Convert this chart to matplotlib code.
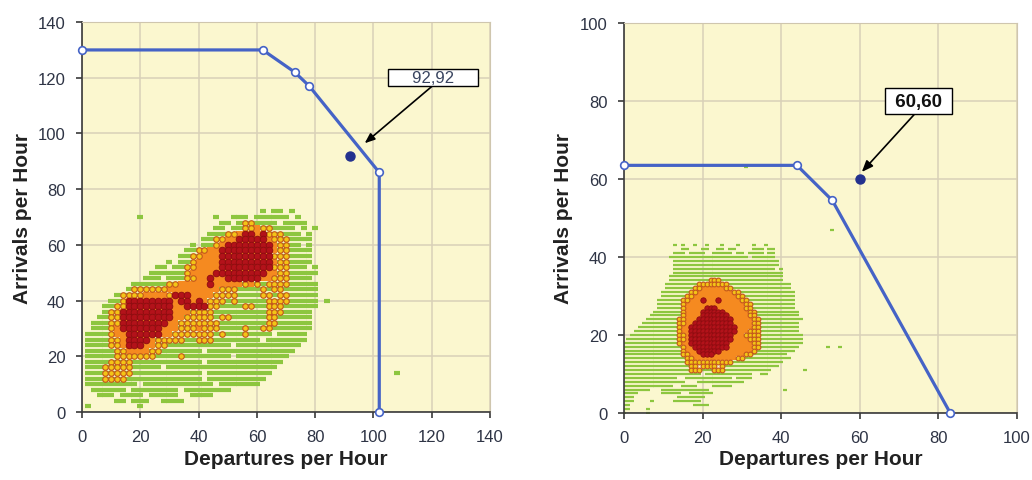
import matplotlib.pyplot as plt

plt.rcParams['font.family'] = ['Liberation Sans', 'DejaVu Sans']

# capacity envelopes (departures, arrivals) and the marked operating point
left_env_x = [0, 62, 73, 78, 102, 102]
left_env_y = [130, 130, 122, 117, 86, 0]
left_point = (92, 92)
left_label = '92,92'

right_env_x = [0, 44, 53, 83]
right_env_y = [63.5, 63.5, 54.5, 0]
right_point = (60, 60)
right_label = '60,60'

# observed hours, read off the picture on a regular grid
# '.' none, 'g' few, 'o' many, 'y' frequent (circle), 'r' most frequent
# left grid: 2 per cell, first row is arrivals 72, first column departures 0
left_rows = [
    '.' * 31 + 'g.gg.g',                                                          # 72
    '.' * 10 + 'g' + '.' * 12 + 'g..ggg.gggggg.g',                                # 70
    '.' * 24 + 'gg.g' + 'yy' + 'gggg.gggg',                                       # 68
    '.' * 23 + 'gg.gg' + 'yyoyy' + 'gggg.g',                                      # 66
    '.' * 22 + 'ggg' + 'yy' + 'o' + 'rror' + 'yyy' + 'ggg.g',                     # 64
    '.' * 21 + 'gg' + 'yy' + 'oo' + 'rrrrr' + 'oyyy' + 'gggg',                    # 62
    '.' * 19 + 'g.gg' + 'y' + 'o' + 'rrrrrrrr' + 'o' + 'yy' + 'gg.g',             # 60
    '.' * 18 + 'gg' + 'yy' + 'oo' + 'rrrrrrrrr' + 'o' + 'yy' + 'gggg',            # 58
    '.' * 17 + 'gg' + 'yy' + 'ooo' + 'rrrrrrrrr' + 'yyy' + 'gggg',                # 56
    '.' * 15 + 'g.gg' + 'y' + 'oooo' + 'rrrrrrrrr' + 'o' + 'yy' + 'gggg',         # 54
    '.' * 13 + 'gg.gg' + 'yy' + 'oooo' + 'rrrrrrrrr' + 'yyy' + 'ggg.g',           # 52
    '.' * 12 + 'gggggg' + 'y' + 'oooo' + 'rrrrrrrrr' + 'oo' + 'yy' + 'ggggg',     # 50
    '.' * 11 + 'ggg.ggg' + 'yy' + 'oo' + 'r' + 'oo' + 'rrrrrr' + 'oo' + 'yyy' + 'gggg.',
    '.' * 9 + 'gggggg' + 'yy' + 'ooooo' + 'r' + 'ooooo' + 'yoy' + 'g' + 'yyyy' + 'ggggg',
    '.' * 8 + 'g' + 'yyyyy' + 'yoooo' + 'ooooo' + 'yyy' + 'gggg' + 'ygyyg' + 'ggggg',
    '.' * 6 + 'g' + 'yyyy' + 'oooo' + 'y' + 'rrr' + 'oooo' + 'yyyy' + 'gggg' + 'yygyy' + 'ggggg',
    '.' * 5 + 'gg' + 'y' + 'rrrrrrrr' + 'orroro' + 'yyy' + 'g' + 'y' + 'ggggg' + 'yyyy' + 'ggggg',
    '.' * 4 + 'gg' + 'yy' + 'rrrrrrrr' + 'oo' + 'rrrr' + 'yy' + 'gggg' + 'yy' + 'gg' + 'yyy' + 'gggggg',
    '.' * 4 + 'g' + 'yy' + 'rrrrrrrrr' + 'ooo' + 'yyyy' + 'ggggggggg' + 'yyy' + 'ggggg',
    '.' * 3 + 'gg' + 'yy' + 'rrrrrrrrr' + 'oo' + 'yyyyy' + 'g' + 'yy' + 'gggggg' + 'yy' + 'gggggg',
    '.' * 2 + 'ggg' + 'yy' + 'rrrrrrrr' + 'oo' + 'yyyyyyy' + 'gggggggg' + 'yy' + 'gggggg',
    '.' * 2 + 'ggg' + 'y' + 'o' + 'rrrrrrr' + 'ooo' + 'yyyoyyy' + 'gggg' + 'y' + 'gg' + 'yy' + 'ggggggg',
    '.' + 'gggg' + 'y' + 'oo' + 'rrrrrr' + 'oo' + 'yyyyyyy' + 'g' + 'y' + 'ggg' + 'y' + 'gggg.ggggg',
    '.' + 'gggg' + 'yy' + 'o' + 'rrrr' + 'o' + 'yyyyy' + 'gg' + 'yyy' + 'gggggggg.ggggggg',
    '.' + 'gggg' + 'yy' + 'o' + 'rrr' + 'oo' + 'yy' + 'ggggggggggg.ggggggggggg',  # 24
    '.' + 'ggggg' + 'yy' + 'oooo' + 'yy' + 'ggggggg.ggggggggggggggg',             # 22
    '.' + 'ggggg' + 'yyyyyyy' + 'gggg' + 'y' + 'gggggggg.ggggggggg',              # 20
    '.' + 'gggg' + 'yyyy' + 'gggggggggggg.ggggggggggggg',                         # 18
    '.' + 'ggg' + 'yyyyy' + 'ggggg.ggggggggggggggggggg',                          # 16
    '.' + 'ggg' + 'yyyyy' + 'gggggggggggg.ggggggggggg',                           # 14
    '.' + 'ggg' + 'yyyy' + 'ggggggggggggg.gggggggggg',                            # 12
    '.' + 'ggggggggg.gggggggggggg.ggggggg',                                       # 10
    '..' + 'gggggg.gggggggg.gggggggg',                                            # 8
    '...' + 'ggg.gggg.ggggg..gggg',                                               # 6
    '.' * 6 + 'gg.ggg..gggg',                                                     # 4
    '.g........g',                                                                # 2
]
left_top = 72
left_step = 2
left_extra_x = [84, 80, 108]
left_extra_y = [40, 66, 14]

# right grid: 1 per cell, first row is arrivals 43
right_rows = [
    '.' * 13 + 'g.g..g..g...g...g...g..g',                                        # 43
    '.' * 15 + 'gg...gg..gg.gg....ggg.gg',
    '.' * 13 + 'ggg.gggg..ggggg.gg.gggg.gg',
    '.' * 12 + 'gggggggggggggggggggg.gggggg',                                     # 40
    '.' * 13 + 'g' * 27,
    '.' * 13 + 'g' * 27,
    '.' * 13 + 'g' * 26 + '.g',
    '.' * 13 + 'g' * 28,
    '.' * 12 + 'g' * 29,                                                          # 35
    '.' * 12 + 'g' * 10 + 'yyy' + 'g' * 16,
    '.' * 11 + 'g' * 8 + 'yyyyyyyy' + 'g' * 16,
    '.' * 11 + 'g' * 7 + 'yy' + 'oooooo' + 'yy' + 'g' * 15,
    '.' * 10 + 'g' * 7 + 'yy' + 'o' * 9 + 'yy' + 'g' * 14,
    '.' * 10 + 'g' * 6 + 'yy' + 'o' * 11 + 'yy' + 'g' * 13,                       # 30
    '.' * 9 + 'g' * 6 + 'yy' + 'ooo' + 'r' + 'ooo' + 'r' + 'ooooo' + 'yy' + 'g' * 12,
    '.' * 9 + 'g' * 6 + 'y' + 'o' * 15 + 'yy' + 'g' * 11,
    '.' * 9 + 'g' * 6 + 'y' + 'ooooo' + 'rrr' + 'ooooooo' + 'yy' + 'g' * 11,
    '.' * 8 + 'g' * 7 + 'y' + 'oooo' + 'rrrrrr' + 'oooooo' + 'yy' + 'g' * 11,
    '.' * 7 + 'g' * 8 + 'y' + 'oooo' + 'rrrrrrr' + 'ooooo' + 'yy' + 'g' * 11,     # 25
    '.' * 6 + 'g' * 8 + 'yy' + 'ooo' + 'r' * 9 + 'ooooo' + 'yy' + 'g' * 11,
    '.' * 5 + 'g' * 9 + 'yy' + 'oo' + 'r' * 10 + 'ooooo' + 'yy' + 'g' * 10,
    '.' * 4 + 'g' * 10 + 'y' + 'oo' + 'r' * 12 + 'oooo' + 'yy' + 'g' * 10,
    '.' * 3 + 'g' * 11 + 'y' + 'oo' + 'r' * 12 + 'ooo' + 'yyy' + 'g' * 10,
    '.' * 2 + 'g' * 12 + 'yy' + 'o' + 'r' * 11 + 'ooo' + 'yyyy' + 'g' * 11,       # 20
    '.' + 'g' * 13 + 'yy' + 'o' + 'r' * 11 + 'oooo' + 'yyy' + 'g' * 11,
    'g' * 14 + 'y' + 'oo' + 'r' * 10 + 'oooooo' + 'yy' + 'g' * 11,
    'g' * 15 + 'y' + 'oo' + 'r' * 9 + 'oooooo' + 'yy' + 'g' * 10,
    'g' * 15 + 'y' + 'ooo' + 'r' * 6 + 'oooooooo' + 'y' + 'g' * 10,
    'g' * 15 + 'yy' + 'ooo' + 'rrr' + 'oooooooo' + 'yy' + 'g' * 9,                # 15
    'g' * 16 + 'yy' + 'o' * 11 + 'yy' + 'g' * 12,
    'g' * 16 + 'y' * 12 + 'g' * 13,
    'g' * 17 + 'yy.yyyy.y' + 'g' * 14,
    'g' * 17 + 'yyy' + 'ggg' + 'yyy' + 'g' * 12,
    'g' * 20 + '.' + 'g' * 12 + '..gg',                                           # 10
    'g' * 14 + '..' + 'g' * 12 + '.gggg',
    'g' * 16 + '...' + 'g' * 12,
    'g' * 13 + '..gggg....ggggg',
    'g' * 7 + '...' + 'g' * 12,
    'gggg' + '.' * 6 + 'ggggg..gggggg',                                           # 5
    'ggg' + '.' * 11 + 'g' * 7,
    'ggg....g.....' + 'g' * 7,
    'gg' + '.' * 16 + 'gggg',
    'gg....g',
    'g.....g',                                                                    # 0
]
right_top = 43
right_step = 1
right_extra_x = [53, 52, 55, 46, 41, 31]
right_extra_y = [47, 17, 17, 11, 6, 63]


def cells(rows, top, step, codes):
    xs, ys = [], []
    for k, row in enumerate(rows):
        for i, c in enumerate(row):
            if c in codes:
                xs.append(i * step)
                ys.append(top - k * step)
    return xs, ys


def draw_cloud(ax, rows, top, step, ex, ey, dash_w, dash_h, box, dot, red):
    gx, gy = cells(rows, top, step, 'goyr')
    ax.plot(gx + ex, gy + ey, ls='none', marker='_', ms=dash_w, mew=dash_h,
            color='#8dc63f', zorder=2)
    ox, oy = cells(rows, top, step, 'or')
    ax.plot(ox, oy, ls='none', marker='s', ms=box, mew=0,
            color='#f58a20', zorder=3)
    yx, yy = cells(rows, top, step, 'y')
    ax.plot(yx, yy, ls='none', marker='o', ms=dot, mew=0.8,
            mfc='#f3c516', mec='#c4561c', zorder=4)
    rx, ry = cells(rows, top, step, 'r')
    ax.plot(rx, ry, ls='none', marker='o', ms=red, mew=0.6,
            mfc='#b3121a', mec='#8c0c10', zorder=5)


def style(ax, lim, xlab_y, ylab_x):
    ax.set_facecolor('#fbf7cf')
    ax.set_xlim(0, lim)
    ax.set_ylim(0, lim)
    ax.set_xticks(range(0, lim + 1, 20))
    ax.set_yticks(range(0, lim + 1, 20))
    ax.grid(True, color='#d9d0b8', lw=1.1)
    ax.set_axisbelow(True)
    for s in ['top', 'right']:
        ax.spines[s].set_color('#cfc6ae')
    for s in ['left', 'bottom']:
        ax.spines[s].set_color('#3a3a3a')
        ax.spines[s].set_linewidth(1.2)
    ax.tick_params(direction='out', length=4, width=1.2, color='#3a3a3a',
                   labelsize=12, labelcolor='#2e3445', pad=8)
    ax.set_xlabel('Departures per Hour', fontsize=15, fontweight='bold', color='#222222')
    ax.set_ylabel('Arrivals per Hour', fontsize=15, fontweight='bold', color='#222222')
    ax.xaxis.set_label_coords(0.5, xlab_y)
    ax.yaxis.set_label_coords(ylab_x, 0.5)


def envelope(ax, xs, ys, pt):
    ax.plot(xs, ys, color='#4563c6', lw=2.3, marker='o', ms=5.5, mfc='white',
            mec='#4563c6', mew=1.2, zorder=6, clip_on=False)
    ax.plot([pt[0]], [pt[1]], ls='none', marker='o', ms=6.5, color='#23318e', zorder=7)


fig = plt.figure(figsize=(10.32, 4.81), dpi=100)
ax1 = fig.add_axes([0.0795, 0.1414, 0.3953, 0.8106])
ax2 = fig.add_axes([0.6047, 0.1393, 0.3808, 0.8108])

style(ax1, 140, -0.095, -0.1225)
style(ax2, 100, -0.092, -0.130)

draw_cloud(ax1, left_rows, left_top, left_step, left_extra_x, left_extra_y,
           dash_w=5.0, dash_h=3.0, box=4.8, dot=4.0, red=4.8)
draw_cloud(ax2, right_rows, right_top, right_step, right_extra_x, right_extra_y,
           dash_w=3.0, dash_h=1.6, box=3.1, dot=3.4, red=3.9)

envelope(ax1, left_env_x, left_env_y, left_point)
envelope(ax2, right_env_x, right_env_y, right_point)

ax1.annotate('     ' + left_label + '     ', xy=(97, 96.5), xytext=(120.5, 120),
             ha='center', va='center', fontsize=12, color='#3a4560', zorder=8,
             bbox=dict(boxstyle='square,pad=0.05', fc='white', ec='black', lw=1),
             arrowprops=dict(arrowstyle='-|>,head_length=0.5,head_width=0.2',
                             color='black', lw=1.2, relpos=(0.5, 0),
                             shrinkA=0, shrinkB=0))
ax2.annotate(' ' + right_label + ' ', xy=(60.5, 61.8), xytext=(75, 80),
             ha='center', va='center', fontsize=13.5, fontweight='bold',
             color='#111111', zorder=8,
             bbox=dict(boxstyle='square,pad=0.25', fc='white', ec='black', lw=1),
             arrowprops=dict(arrowstyle='-|>,head_length=0.5,head_width=0.2',
                             color='black', lw=1.2, relpos=(0.5, 0),
                             shrinkA=0, shrinkB=0))

fig.savefig('out.png', dpi=100)
